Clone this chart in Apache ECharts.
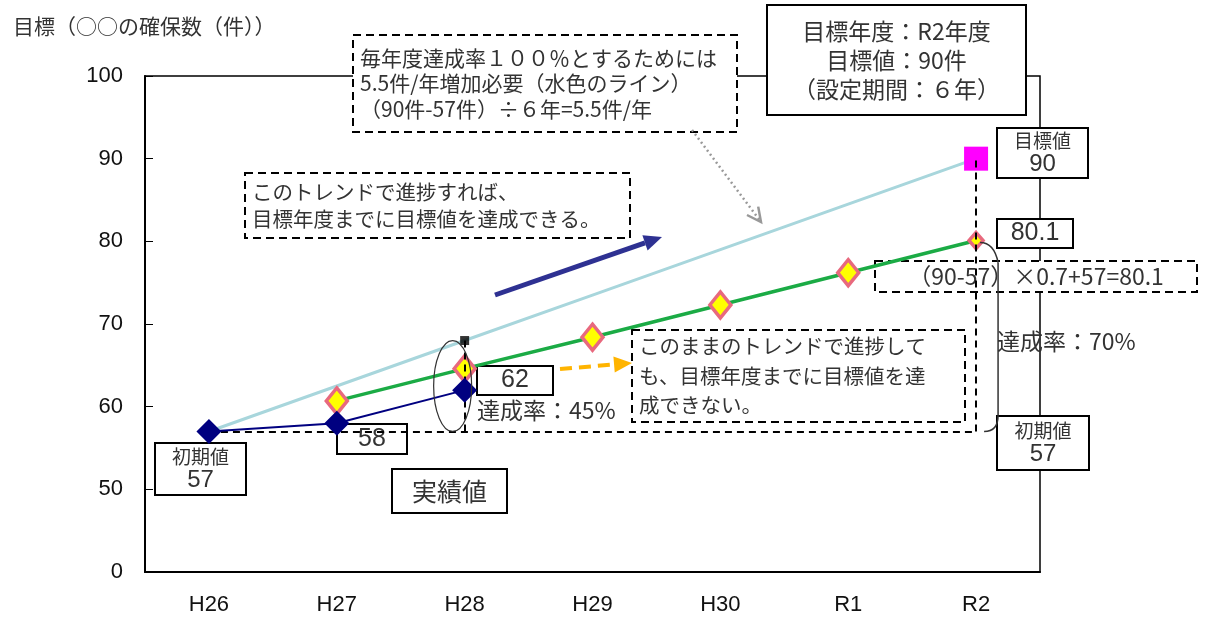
<!DOCTYPE html>
<html>
<head>
<meta charset="utf-8">
<script src="https://cdn.jsdelivr.net/npm/echarts@6/dist/echarts.min.js"></script>
<style>
  html, body { margin: 0; padding: 0; background: #fff; }
  #chart { width: 1212px; height: 620px; }
</style>
</head>
<body>
<div id="chart"></div>
<script>
// 年度
const categories = ['H26', 'H27', 'H28', 'H29', 'H30', 'R1', 'R2']
// 達成率100%のライン（水色）
const targetLine = [57, 62.5, 68, 73.5, 79, 84.5, 90]
// 達成率70%のトレンド（緑）
const trendLine = [null, 60.7, 64.6, 68.4, 72.3, 76.2, 80.1]
// 実績値
const actualValues = [57, 58, 62, null, null, null, null]
// H28時点の目標（黒い小さい四角）
const h28Target = [null, null, 68, null, null, null, null]
// 縦軸の目盛り（一番下の40は「0」と表示＝省略軸）
const yMin = 40
const yMax = 100
const yStep = 10

const jp = '"Noto Sans CJK JP", sans-serif'
const num = '"Liberation Sans", Arial, sans-serif'

const chart = echarts.init(document.getElementById('chart'))

const option = {
  animation: false,
  title: {
    text: '目標（○○の確保数（件））',
    left: 8,
    top: 11,
    textStyle: { fontFamily: jp, fontSize: 21, fontWeight: 'normal', color: '#333' }
  },
  grid: {
    left: 145,
    right: 172,
    top: 76,
    bottom: 48,
    show: true,
    borderColor: '#000',
    borderWidth: 1.5
  },
  xAxis: {
    type: 'category',
    data: categories,
    boundaryGap: true,
    axisLine: { lineStyle: { color: '#000', width: 2 } },
    axisTick: { inside: true, length: 8, lineStyle: { color: '#000' } },
    axisLabel: {
      margin: 22,
      fontFamily: num,
      fontSize: 22,
      color: '#111'
    }
  },
  yAxis: {
    type: 'value',
    min: yMin,
    max: yMax,
    interval: yStep,
    splitLine: { show: false },
    axisLine: { show: true, lineStyle: { color: '#000', width: 2 } },
    axisTick: { show: true, inside: true, length: 8, lineStyle: { color: '#000' } },
    axisLabel: {
      margin: 22,
      fontFamily: num,
      fontSize: 22,
      color: '#111',
      formatter: v => (v === yMin ? '0' : String(v))
    }
  },
  series: [
    {
      name: '100%',
      type: 'line',
      data: targetLine.map((v, i) =>
        i === targetLine.length - 1
          ? { value: v, symbol: 'rect', symbolSize: 24, itemStyle: { color: '#ff00ff', borderWidth: 0 } }
          : { value: v, symbol: 'none' }
      ),
      lineStyle: { color: '#a8d6dc', width: 3 },
      z: 2,
      markLine: {
        silent: true,
        symbol: 'none',
        label: { show: false },
        lineStyle: { color: '#000', type: [7, 5], width: 2 },
        data: [
          [{ coord: ['H26', 57] }, { coord: ['R2', 57] }],
          [{ coord: ['R2', 57] }, { coord: ['R2', 90] }],
          [{ coord: ['H28', 57] }, { coord: ['H28', 68] }]
        ]
      }
    },
    {
      name: '70%',
      type: 'line',
      data: trendLine.map((v, i) => (i === trendLine.length - 1 ? { value: v, symbolSize: [14, 16] } : v)),
      symbol: 'diamond',
      symbolSize: [21, 26],
      itemStyle: { color: '#ffff00', borderColor: '#e8697e', borderWidth: 3.5 },
      lineStyle: { color: '#1bab45', width: 3.5 },
      z: 3
    },
    {
      name: 'H28目標',
      type: 'scatter',
      data: h28Target,
      symbol: 'rect',
      symbolSize: 9,
      itemStyle: { color: '#000' },
      z: 4
    },
    {
      name: '実績値',
      type: 'line',
      data: actualValues,
      symbol: 'diamond',
      symbolSize: 25,
      itemStyle: { color: '#000080' },
      lineStyle: { color: '#000080', width: 2 },
      z: 5
    }
  ]
}

chart.setOption(option)

// 注記の枠
function box(x, y, w, h, text, o = {}) {
  const left = o.align === 'left'
  return {
    type: 'group',
    x,
    y,
    z: 100,
    children: [
      {
        type: 'rect',
        shape: { x: 0, y: 0, width: w, height: h },
        style: { fill: '#fff', stroke: '#000', lineWidth: 2, lineDash: o.dash ? [8, 5] : null }
      },
      {
        type: 'text',
        x: left ? (o.pad || 7) : w / 2,
        y: h / 2 + (o.dy || 0),
        style: {
          text,
          rich: o.rich,
          font: (o.size || 20) + 'px ' + (o.family || jp),
          fill: '#333',
          align: left ? 'left' : 'center',
          verticalAlign: 'middle',
          lineHeight: o.lh || 26
        }
      }
    ]
  }
}

function label(x, y, text, size) {
  return {
    type: 'text',
    x,
    y,
    z: 100,
    style: { text, font: size + 'px ' + jp, fill: '#333', verticalAlign: 'middle' }
  }
}

// 矢印
function arrow(x1, y1, x2, y2, color, width, dash, open) {
  const a = Math.atan2(y2 - y1, x2 - x1)
  const hl = open ? 14 : 18
  const hw = open ? 7 : 8
  const bx = x2 - Math.cos(a) * hl
  const by = y2 - Math.sin(a) * hl
  const p1 = [bx + Math.sin(a) * hw, by - Math.cos(a) * hw]
  const p2 = [bx - Math.sin(a) * hw, by + Math.cos(a) * hw]
  const end = open ? [x2, y2] : [bx, by]
  const items = [
    {
      type: 'line',
      z: 90,
      shape: { x1, y1, x2: end[0], y2: end[1] },
      style: { stroke: color, lineWidth: width, lineDash: dash }
    }
  ]
  if (open) {
    items.push({ type: 'polyline', z: 90, shape: { points: [p1, [x2, y2], p2] }, style: { stroke: color, lineWidth: 2.5, fill: null } })
  } else {
    items.push({ type: 'polygon', z: 90, shape: { points: [p1, [x2, y2], p2] }, style: { fill: color } })
  }
  return items
}

const pR2a = chart.convertToPixel({ gridIndex: 0 }, ['R2', 80.1])
const pR2b = chart.convertToPixel({ gridIndex: 0 }, ['R2', 57])
const pH28a = chart.convertToPixel({ gridIndex: 0 }, ['H28', 68])
const pH28b = chart.convertToPixel({ gridIndex: 0 }, ['H28', 57])
const bx = pR2a[0] + 22

const richNum = {
  a: { font: '19px ' + jp, fill: '#333', lineHeight: 22 },
  b: { font: '24px ' + num, fill: '#333', lineHeight: 25 }
}

chart.setOption({
  graphic: [
    // 達成率70%の括弧
    {
      type: 'bezierCurve',
      z: 80,
      shape: { x1: pR2a[0] + 4, y1: pR2a[1] + 2, cpx1: bx - 4, cpy1: pR2a[1] + 2, x2: bx, y2: pR2a[1] + 22 },
      style: { stroke: '#333', lineWidth: 1.5, fill: null }
    },
    {
      type: 'line',
      z: 80,
      shape: { x1: bx, y1: pR2a[1] + 22, x2: bx, y2: pR2b[1] - 16 },
      style: { stroke: '#333', lineWidth: 1.5 }
    },
    {
      type: 'bezierCurve',
      z: 80,
      shape: { x1: bx, y1: pR2b[1] - 16, cpx1: bx, cpy1: pR2b[1], x2: pR2b[0] + 8, y2: pR2b[1] },
      style: { stroke: '#333', lineWidth: 1.5, fill: null }
    },
    // 達成率45%の括弧
    {
      type: 'ellipse',
      z: 80,
      shape: { cx: pH28a[0] - 12, cy: (pH28a[1] + pH28b[1]) / 2, rx: 19, ry: (pH28b[1] - pH28a[1]) / 2 },
      style: { stroke: '#333', lineWidth: 1.2, fill: null }
    },
    ...arrow(495, 295, 662, 237, '#2e3192', 5, null, false),
    ...arrow(560, 369, 632, 363, '#ffb400', 4, [12, 7], false),
    ...arrow(692, 130, 761, 222, '#999', 2.5, [2, 3], true),
    box(353, 35, 384, 97, '毎年度達成率１００％とするためには\n5.5件/年増加必要（水色のライン）\n（90件-57件）÷６年=5.5件/年', { dash: true, align: 'left', size: 21, lh: 25.5 }),
    box(767, 5, 259, 110, '目標年度：R2年度\n目標値：90件\n（設定期間：６年）', { size: 23, lh: 29 }),
    box(245, 173, 385, 65, 'このトレンドで進捗すれば、\n目標年度までに目標値を達成できる。', { dash: true, align: 'left', size: 20.5, lh: 27 }),
    box(997, 128, 91, 50, '{a|目標値}\n{b|90}', { rich: richNum, lh: 23 }),
    box(997, 219, 76, 29, '80.1', { size: 25, family: num }),
    box(875, 261, 322, 31, '（90-57）×0.7+57=80.1', { dash: true, size: 23 }),
    label(997, 341, '達成率：70%', 23),
    box(632, 330, 333, 92, 'このままのトレンドで進捗して\nも、目標年度までに目標値を達\n成できない。', { dash: true, align: 'left', size: 20.5, lh: 29.5 }),
    box(997, 416, 92, 54, '{a|初期値}\n{b|57}', { rich: richNum, lh: 23 }),
    box(477, 366, 76, 29, '62', { size: 25, family: num }),
    label(477, 410, '達成率：45%', 23),
    box(337, 424, 70, 30, '58', { size: 25, family: num }),
    box(155, 443, 91, 52, '{a|初期値}\n{b|57}', { rich: richNum, lh: 23 }),
    box(392, 469, 115, 44, '実績値', { size: 25 })
  ]
})
</script>
</body>
</html>
